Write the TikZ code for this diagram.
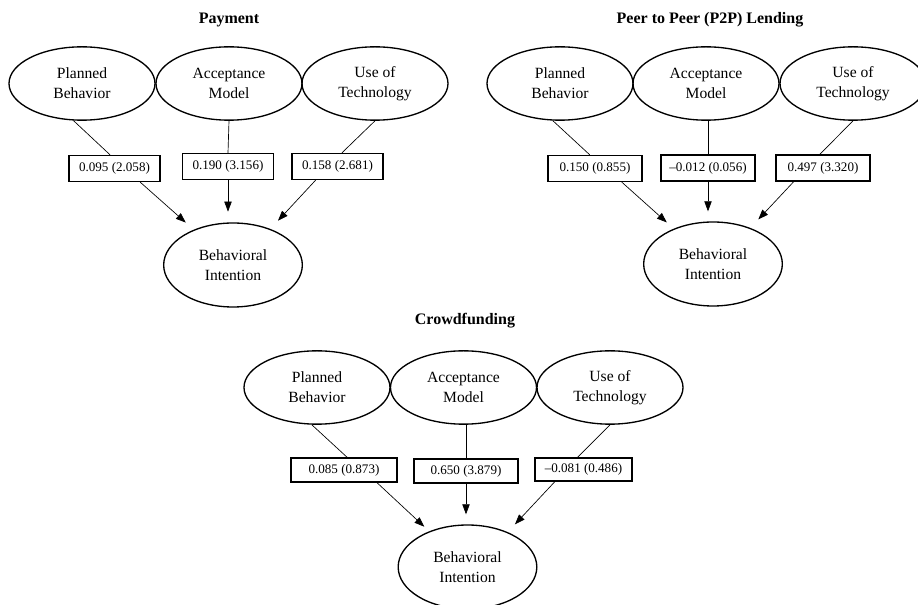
\documentclass[tikz,border=0pt]{standalone}
\usepackage{fontspec}
\setmainfont{Liberation Serif}
\usetikzlibrary{shapes.geometric,arrows.meta}

\begin{document}
\begin{tikzpicture}[x=0.75pt,y=-0.75pt,
  construct/.style={ellipse,draw,line width=1pt,minimum width=109.5pt,minimum height=55pt,inner sep=0pt,align=center,font=\fontsize{11.7}{15}\selectfont},
  outcome/.style={construct,minimum width=104pt,minimum height=63pt},
  coef/.style={rectangle,draw,line width=1pt,minimum width=68.25pt,minimum height=19.5pt,inner sep=0pt,font=\fontsize{9.8}{11}\selectfont},
  heading/.style={font=\bfseries\fontsize{12}{14}\selectfont},
  link/.style={line width=0.5pt},
  effect/.style={line width=0.5pt,-{Triangle[length=7.5pt,width=5.5pt]}}]
\useasboundingbox (0,0) rectangle (918,605);
% Payment
\node[heading] (t1) at (229,20) {Payment};
\node[construct] (pb1) at (82,83.5) {Planned\\Behavior};
\node[construct] (am1) at (229,83.5) {Acceptance\\Model};
\node[construct] (ut1) at (375,83.5) {Use of\\Technology};
\node[coef] (c11) at (114.5,168.5) {0.095 (2.058)};
\node[coef] (c12) at (228,166.5) {0.190 (3.156)};
\node[coef] (c13) at (337.5,166.5) {0.158 (2.681)};
\node[outcome] (bi1) at (233,265) {Behavioral\\Intention};
\draw[link] (pb1.257) -- (c11.108);
\draw[link] (am1.south) -- (c12.north);
\draw[link] (ut1.south) -- (c13.72);
\draw[effect,shorten >=8pt] (c11.-28) -- (bi1.138);
\draw[effect,shorten >=8pt] (c12.south) -- (c12.south |- bi1.north);
\draw[effect,shorten >=8.4pt] (c13.212) -- (bi1.44);
% P2P lending
\node[heading] (t2) at (710,20) {Peer to Peer (P2P) Lending};
\node[construct] (pb2) at (560,83.5) {Planned\\Behavior};
\node[construct] (am2) at (706,83.5) {Acceptance\\Model};
\node[construct] (ut2) at (853,83.5) {Use of\\Technology};
\node[coef,minimum width=70.5pt] (c21) at (595,168.5) {0.150 (0.855)};
\node[coef,minimum width=70.5pt] (c22) at (708,168) {\textendash0.012 (0.056)};
\node[coef,minimum width=70.5pt] (c23) at (823,168) {0.497 (3.320)};
\node[outcome] (bi2) at (713,264) {Behavioral\\Intention};
\draw[link] (pb2.259) -- (c21.111);
\draw[link] (am2.south -| c22.north) -- (c22.north);
\draw[link] (ut2.south) -- (c23.103);
\draw[effect,shorten >=7pt] (c21.-27) -- (bi2.138);
\draw[effect,shorten >=7.5pt] (c22.south) -- (c22.south |- bi2.north);
\draw[effect,shorten >=8.7pt] (c23.205) -- (bi2.44);
% Crowdfunding
\node[heading] (t3) at (465,321) {Crowdfunding};
\node[construct] (pb3) at (317,387.5) {Planned\\Behavior};
\node[construct] (am3) at (463.5,387.5) {Acceptance\\Model};
\node[construct] (ut3) at (610,387.5) {Use of\\Technology};
\node[coef,minimum width=79.5pt,minimum height=18pt] (c31) at (344,470) {0.085 (0.873)};
\node[coef,minimum width=78pt,minimum height=18pt] (c32) at (466,471) {0.650 (3.879)};
\node[coef,minimum width=72.75pt,minimum height=17.25pt] (c33) at (583.5,469.5) {\textendash0.081 (0.486)};
\node[outcome] (bi3) at (467.5,567) {Behavioral\\Intention};
\draw[link] (pb3.262) -- (c31.76);
\draw[link] (am3.south -| c32.north) -- (c32.north);
\draw[link] (ut3.south) -- (c33.116);
\draw[effect,shorten >=5pt] (c31.-21) -- (bi3.137);
\draw[effect,shorten >=7.5pt] (c32.south) -- (c32.south |- bi3.north);
\draw[effect,shorten >=8pt] (c33.203) -- (bi3.41);
\end{tikzpicture}
\end{document}
